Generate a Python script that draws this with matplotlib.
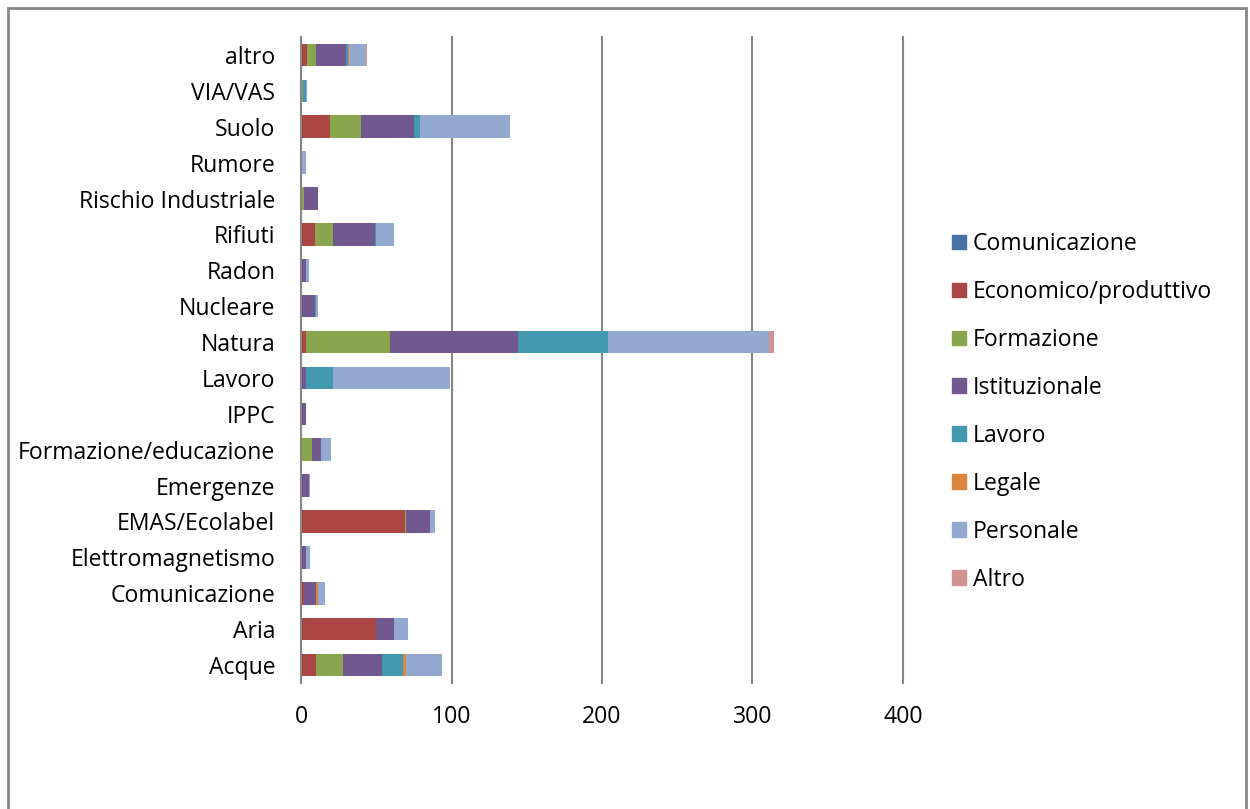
import matplotlib
matplotlib.use("Agg")
import matplotlib.pyplot as plt
import matplotlib.patches as mpatches
import numpy as np

plt.rcParams['font.family'] = ['Open Sans', 'DejaVu Sans']

categories = ["Acque", "Aria", "Comunicazione", "Elettromagnetismo", "EMAS/Ecolabel",
              "Emergenze", "Formazione/educazione", "IPPC", "Lavoro", "Natura",
              "Nucleare", "Radon", "Rifiuti", "Rischio Industriale", "Rumore",
              "Suolo", "VIA/VAS", "altro"]

series_names = ["Comunicazione", "Economico/produttivo", "Formazione", "Istituzionale",
                "Lavoro", "Legale", "Personale", "Altro"]

comunicazione = [0, 0, 0, 0, 0, 0, 0, 0, 0, 0, 0, 0, 0, 0, 0, 0, 0, 0]
economico     = [10, 50, 2, 0, 69, 0, 0, 0, 0, 3, 0, 0, 9, 0, 0, 19, 0, 4]
formazione    = [18, 0, 0, 0, 1, 0, 7, 0, 0, 56, 0, 0, 12, 2, 0, 21, 1, 6]
istituzionale = [26, 12, 8, 3, 16, 5, 6, 3, 3, 85, 9, 3, 28, 9, 0, 35, 0, 20]
lavoro        = [14, 0, 0, 0, 0, 0, 0, 0, 18, 60, 1, 0, 1, 0, 0, 4, 2, 1]
legale        = [2, 0, 1, 0, 0, 0, 0, 0, 0, 0, 0, 0, 0, 0, 0, 0, 0, 1]
personale     = [24, 9, 5, 3, 3, 1, 7, 0, 78, 107, 1, 2, 12, 0, 3, 60, 1, 11]
altro         = [0, 0, 0, 0, 0, 0, 0, 0, 0, 3, 0, 0, 0, 0, 0, 0, 0, 1]

series_values = [comunicazione, economico, formazione, istituzionale,
                 lavoro, legale, personale, altro]
colors = ["#4572A7", "#AA4643", "#89A54E", "#71588F",
          "#4198AF", "#DB843D", "#93A9CF", "#D19392"]

xticks = [0, 100, 200, 300, 400]

FS = 16.6

fig = plt.figure(figsize=(12.5, 8.09), dpi=100)
ax = fig.add_axes([301/1250, 1 - 683/809, 602/1250, 646/809])

y = np.arange(len(categories))
left = np.zeros(len(categories))
handles = []
for name, vals, col in zip(series_names, series_values, colors):
    vals = np.array(vals, dtype=float)
    ax.barh(y, vals, left=left, height=0.63, color=col, edgecolor='none', zorder=3)
    left += vals
    handles.append(mpatches.Patch(color=col, label=name))

ax.set_xlim(0, 400)
ax.set_ylim(-0.5, len(categories) - 0.5)
ax.set_xticks(xticks)
ax.set_xticklabels([str(t) for t in xticks])
ax.set_yticks(y)
ax.set_yticklabels(categories)
ax.tick_params(axis='both', length=0, labelsize=FS)
ax.tick_params(axis='y', pad=18.5)
ax.tick_params(axis='x', pad=16)

for t in xticks[1:]:
    ax.axvline(t, color='#868686', linewidth=1.5, zorder=0, clip_on=False)
for s in ['top', 'right', 'bottom']:
    ax.spines[s].set_visible(False)
ax.spines['left'].set_color('#868686')
ax.spines['left'].set_linewidth(1.5)
ax.spines['left'].set_zorder(4)

leg = fig.legend(handles=handles, labels=series_names, loc='center left',
                 bbox_to_anchor=(952/1250, 1 - 412/809), frameon=False,
                 fontsize=FS, handlelength=0.61, handleheight=0.61,
                 handletextpad=0.3, labelspacing=1.04, borderaxespad=0, borderpad=0)

border = mpatches.Rectangle((8/1250, -0.01), (1246 - 8)/1250, 1 - 8/809 + 0.01,
                            transform=fig.transFigure, fill=False,
                            edgecolor='#868686', linewidth=2)
fig.patches.append(border)

fig.savefig("out.png", dpi=100)
